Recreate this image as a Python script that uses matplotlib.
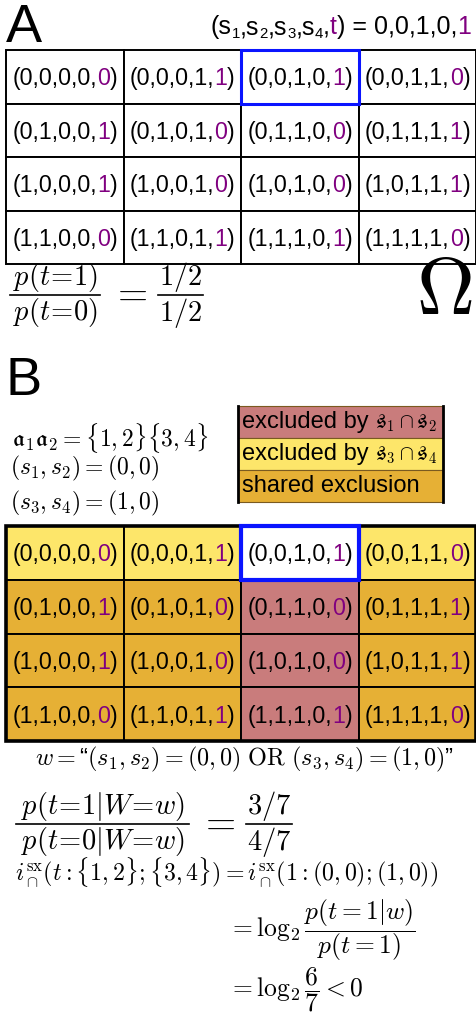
import matplotlib
matplotlib.use("Agg")
import matplotlib.pyplot as plt
from matplotlib.patches import Rectangle

plt.rcParams['font.family'] = ['Liberation Sans', 'DejaVu Sans']
plt.rcParams['mathtext.fontset'] = 'cm'

# grid contents: rows are (s1,s2), columns are (s3,s4)
row_s12 = ["0,0", "0,1", "1,0", "1,1"]
col_s34 = ["0,0", "0,1", "1,0", "1,1"]
t_values = [[0, 1, 1, 0],
            [1, 0, 0, 1],
            [1, 0, 0, 1],
            [0, 1, 1, 0]]
observed = (0, 2)  # (row, col) of (0,0,1,0,1)

# panel B exclusion categories
excl = [["s34", "s34", "none", "s34"],
        ["both", "both", "s12", "both"],
        ["both", "both", "s12", "both"],
        ["both", "both", "s12", "both"]]
excl_colors = {"s12": "#c97c7c", "s34": "#fde66a", "both": "#e6b035", "none": "white"}
legend_items = [("s12", "excluded by", r"$\mathfrak{s}_1\cap\mathfrak{s}_2$"),
                ("s34", "excluded by", r"$\mathfrak{s}_3\cap\mathfrak{s}_4$"),
                ("both", "shared exclusion", "")]

PURPLE = "#800080"
BLUE = "#0a14ff"

fig = plt.figure(figsize=(4.76, 10.24), dpi=100)
ax = fig.add_axes([0, 0, 1, 1])
ax.set_xlim(0, 476)
ax.set_ylim(1024, 0)
ax.axis("off")
renderer = fig.canvas.get_renderer()


def text_width(s, size):
    t = ax.text(0, 0, s, fontsize=size)
    w = t.get_window_extent(renderer).width
    t.remove()
    return w


def parts_text(x, y, parts, ha="center", size=17):
    # parts: (text, color, size scale, dy)
    widths = [text_width(s, size * sc) for s, c, sc, dy in parts]
    total = sum(widths)
    x0 = x - total / 2 if ha == "center" else (x - total if ha == "right" else x)
    for (s, c, sc, dy), w in zip(parts, widths):
        ax.text(x0, y + dy, s, color=c, fontsize=size * sc, va="baseline", ha="left")
        x0 += w


def frac(x1, x2, ybar, num, den, size):
    # hand-built fraction between x1 and x2
    ax.plot([x1, x2], [ybar, ybar], color="black", lw=1.2)
    ax.text((x1 + x2) / 2, ybar - 1, num, fontsize=size, ha="center", va="bottom")
    ax.text((x1 + x2) / 2, ybar + 1, den, fontsize=size, ha="center", va="top")


x0, cw = 6, 117.6


def draw_grid(top, rh, fills=None):
    for r in range(4):
        for c in range(4):
            fc = excl_colors[fills[r][c]] if fills else "white"
            ax.add_patch(Rectangle((x0 + c * cw, top + r * rh), cw, rh, facecolor=fc,
                                   edgecolor="black", lw=1.4))
            label = "(" + row_s12[r] + "," + col_s34[c] + ","
            parts_text(x0 + c * cw + cw / 2, top + r * rh + rh / 2 + 8.5,
                       [(label, "black", 1, 0), (str(t_values[r][c]), PURPLE, 1, 0),
                        (")", "black", 1, 0)], size=16.7)
    r, c = observed
    ax.add_patch(Rectangle((x0 + c * cw, top + r * rh), cw, rh, facecolor="none",
                           edgecolor=BLUE, lw=2.2 if fills is None else 3, zorder=5))


# ---- panel A ----
ax.text(6, 42, "A", fontsize=39, va="baseline")
parts_text(471, 34, [("(s", "black", 1, 0), ("1", "black", 0.6, 4), (",s", "black", 1, 0),
                     ("2", "black", 0.6, 4), (",s", "black", 1, 0), ("3", "black", 0.6, 4),
                     (",s", "black", 1, 0), ("4", "black", 0.6, 4), (",", "black", 1, 0),
                     ("t", PURPLE, 1, 0), (") = 0,0,1,0,", "black", 1, 0), ("1", PURPLE, 1, 0)],
           ha="right", size=18)
draw_grid(50, 53.5)
frac(10, 100, 295, r"$p(t\!=\!1)$", r"$p(t\!=\!0)$", 20.5)
ax.text(129.5, 295, r"$=$", fontsize=28, va="center", ha="center")
frac(158, 203, 295, r"$1/2$", r"$1/2$", 20.5)
ax.text(472, 293, r"$\Omega$", fontsize=58, va="center", ha="right")

# ---- panel B ----
ax.text(6, 395, "B", fontsize=39, va="baseline")
ax.text(12, 438, r"$\mathfrak{a}_1\mathfrak{a}_2=\{1,2\}\{3,4\}$", fontsize=17, va="center")
ax.text(10, 468, r"$(s_1,s_2)=(0,0)$", fontsize=17, va="center")
ax.text(10, 503, r"$(s_3,s_4)=(1,0)$", fontsize=17, va="center")

for i, (key, txt, math) in enumerate(legend_items):
    ax.add_patch(Rectangle((238, 406 + i * 32), 205, 32, facecolor=excl_colors[key],
                           edgecolor="#7a5a20", lw=0.8))
    ax.text(242, 406 + i * 32 + 22, txt, fontsize=17, va="baseline")
    ax.text(375, 406 + i * 32 + 22, math, fontsize=15, va="baseline")
ax.plot([238, 238], [406, 502], color="black", lw=2)
ax.plot([443, 443], [406, 502], color="black", lw=2)

draw_grid(526, 53.75, excl)
ax.add_patch(Rectangle((x0, 526), 4 * cw, 215, facecolor="none", edgecolor="black", lw=2.6, zorder=4))
ax.text(245, 759, r"$w=$“$(s_1,s_2)=(0,0)\ \mathrm{OR}\ (s_3,s_4)=(1,0)$”", fontsize=17.4,
        va="center", ha="center")

frac(16, 189, 824, r"$p(t\!=\!1|W\!=\!w)$", r"$p(t\!=\!0|W\!=\!w)$", 20.5)
ax.text(217.5, 824, r"$=$", fontsize=28, va="center", ha="center")
frac(246, 292, 824, r"$3/7$", r"$4/7$", 20.5)
ax.text(15, 873, r"$i_\cap^{\rm sx}(t:\{1,2\};\{3,4\})=i_\cap^{\rm sx}(1:(0,0);(1,0))$",
        fontsize=17.2, va="center")
ax.text(228, 930, r"$=\log_2\dfrac{p(t=1|w)}{p(t=1)}$", fontsize=18.4, va="center")
ax.text(228, 990, r"$=\log_2\dfrac{6}{7}<0$", fontsize=18.4, va="center")

fig.savefig("out.png", dpi=100)
